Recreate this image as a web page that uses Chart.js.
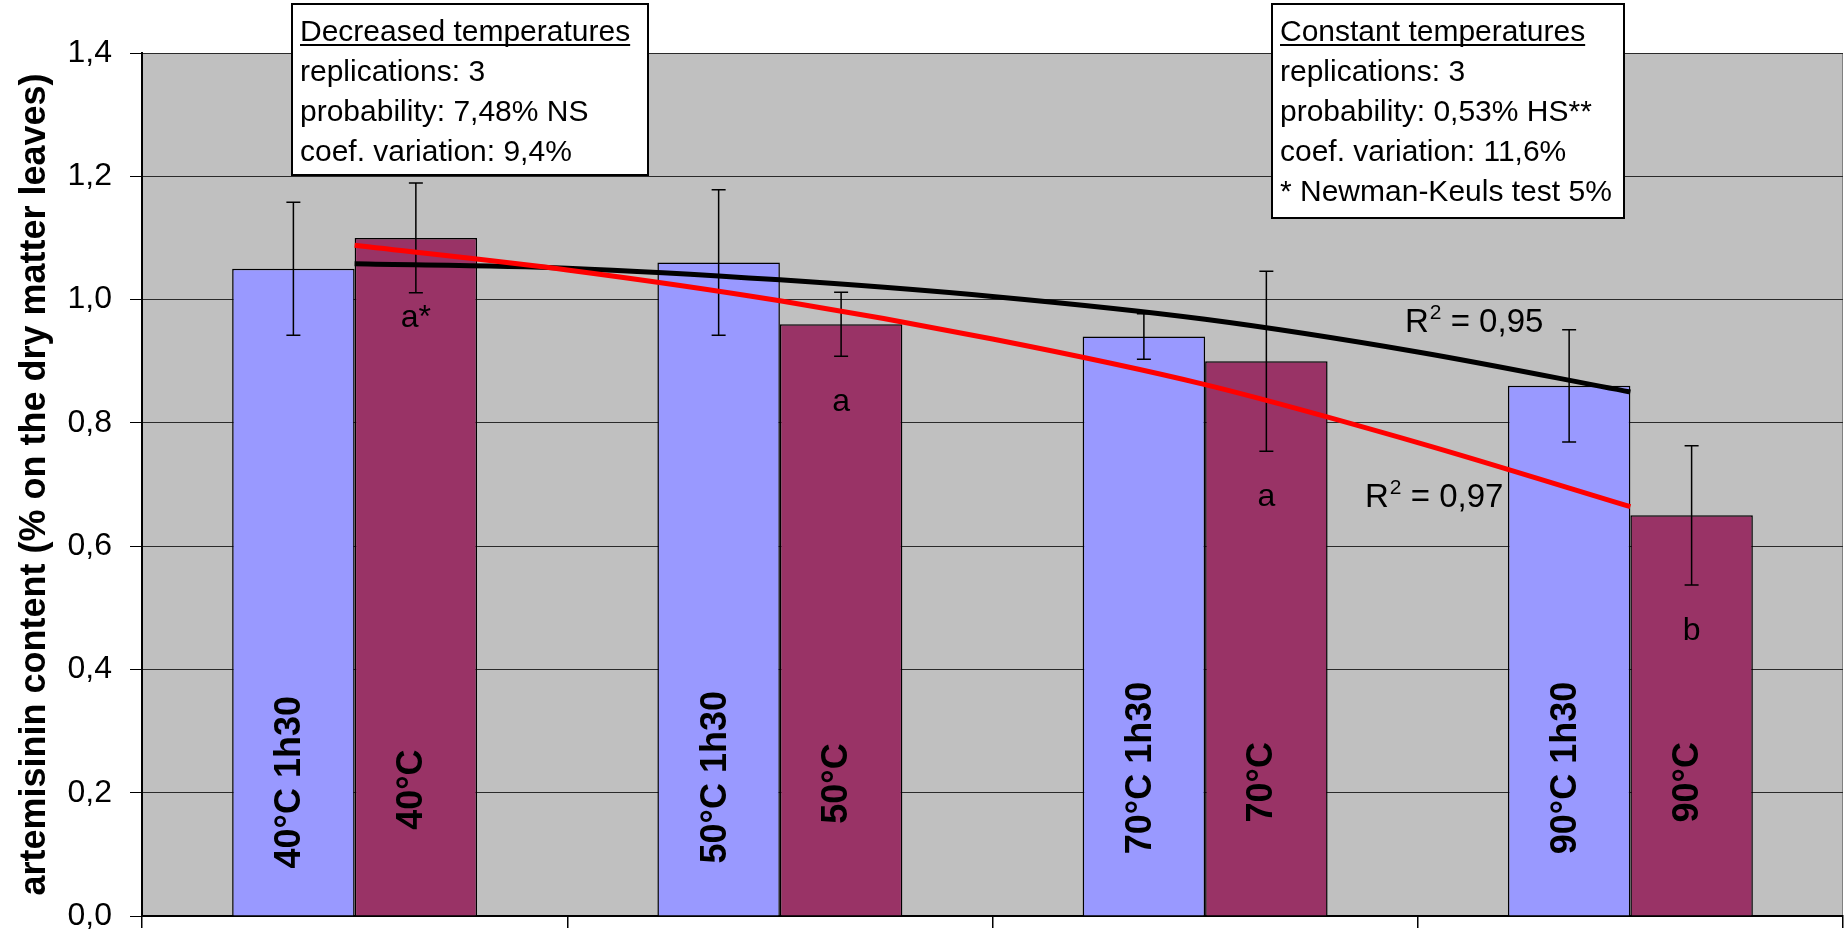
<!DOCTYPE html>
<html>
<head>
<meta charset="utf-8">
<title>Artemisinin content after drying</title>
<script src="https://cdn.jsdelivr.net/npm/chart.js@4/dist/chart.umd.min.js"></script>
<style>
  html, body { margin: 0; padding: 0; background: #ffffff; }
  canvas { display: block; }
</style>
</head>
<body>
<canvas id="chart" width="1846" height="935"></canvas>
<script>
// Drying temperatures (one group of bars each)
const categories = ['40°C', '50°C', '70°C', '90°C'];

// Artemisinin content, % of leaf dry matter
const decreasedValues = [1.05, 1.06, 0.94, 0.86];   // decreased temperature after 1h30
const constantValues  = [1.10, 0.96, 0.90, 0.65];   // constant temperature

// Error bar half-lengths
const decreasedErrors = [0.108, 0.118, 0.037, 0.091];
const constantErrors  = [0.089, 0.052, 0.146, 0.113];

// Text written inside the bars
const decreasedLabels = ['40°C 1h30', '50°C 1h30', '70°C 1h30', '90°C 1h30'];
const constantLabels  = ['40°C', '50°C', '70°C', '90°C'];

// Newman-Keuls groups for the constant-temperature series
const groupLetters = ['a*', 'a', 'a', 'b'];

// Polynomial trend lines (x in group units, 0 = first group)
const trendX          = [0, 0.5, 1.0, 1.5, 2.0, 2.5, 3.0];
const decreasedTrendY = [1.058, 1.051, 1.032, 1.005, 0.968, 0.915, 0.850];
const constantTrendY  = [1.088, 1.048, 0.998, 0.936, 0.862, 0.768, 0.664];

// Coefficients of determination of the trend lines
const decreasedR2 = '0,95';
const constantR2  = '0,97';

// Axis ticks: value axis, and group boundaries on the x axis
const yTicks = [0, 0.2, 0.4, 0.6, 0.8, 1.0, 1.2, 1.4];
const xBoundaries = [-0.5, 0.5, 1.5, 2.5, 3.5];

// Statistics boxes
const decreasedBox = ['Decreased temperatures', 'replications: 3', 'probability: 7,48% NS', 'coef. variation: 9,4%'];
const constantBox  = ['Constant temperatures', 'replications: 3', 'probability: 0,53% HS**', 'coef. variation: 11,6%', '* Newman-Keuls test 5%'];

const FONT = "'Liberation Sans', Arial, Helvetica, sans-serif";
const errorsByDataset = [decreasedErrors, constantErrors];

const toPoints = (xs, ys) => xs.map((x, i) => ({ x: x, y: ys[i] }));
const byGroup = ys => categories.map((c, i) => ({ x: i, y: ys[i] }));
const comma = v => v.toFixed(1).replace('.', ',');

const plotBackground = {
  id: 'plotBackground',
  beforeDraw(chart) {
    const { ctx, chartArea: a } = chart;
    ctx.save();
    ctx.fillStyle = '#C0C0C0';
    ctx.fillRect(a.left, a.top, a.right - a.left, a.bottom - a.top);
    ctx.strokeStyle = '#808080';
    ctx.lineWidth = 1;
    ctx.strokeRect(a.left + 0.5, a.top + 0.5, a.right - a.left - 1, a.bottom - a.top - 1);
    ctx.restore();
  }
};

function drawTextBox(ctx, lines, x, y, w, h) {
  ctx.save();
  ctx.fillStyle = '#ffffff';
  ctx.fillRect(x, y, w, h);
  ctx.strokeStyle = '#000000';
  ctx.lineWidth = 2;
  ctx.strokeRect(x, y, w, h);
  ctx.fillStyle = '#000000';
  ctx.font = '30px ' + FONT;
  ctx.textAlign = 'left';
  ctx.textBaseline = 'alphabetic';
  lines.forEach((t, i) => {
    const bx = x + 8, by = y + 37 + i * 40;
    ctx.fillText(t, bx, by);
    if (i === 0) {
      const tw = ctx.measureText(t).width;
      ctx.fillRect(bx, by + 3, tw, 2);
    }
  });
  ctx.restore();
}

function drawR2(ctx, value, x, y) {
  ctx.save();
  ctx.fillStyle = '#000000';
  ctx.textAlign = 'left';
  ctx.textBaseline = 'alphabetic';
  ctx.font = '33px ' + FONT;
  ctx.fillText('R', x, y);
  let cx = x + ctx.measureText('R').width;
  ctx.font = '21px ' + FONT;
  ctx.fillText('2', cx + 1, y - 13);
  cx += ctx.measureText('2').width + 1;
  ctx.font = '33px ' + FONT;
  ctx.fillText(' = ' + value, cx, y);
  ctx.restore();
}

const annotations = {
  id: 'annotations',
  afterDatasetDraw(chart, args) {
    const errs = errorsByDataset[args.index];
    if (!errs) return;
    const { ctx } = chart;
    const y = chart.scales.y;
    const values = chart.data.datasets[args.index].data;
    ctx.save();
    ctx.strokeStyle = '#000000';
    ctx.lineWidth = 1.5;
    args.meta.data.forEach((bar, i) => {
      const v = values[i].y;
      const yt = y.getPixelForValue(v + errs[i]);
      const yb = y.getPixelForValue(v - errs[i]);
      ctx.beginPath();
      ctx.moveTo(bar.x, yt); ctx.lineTo(bar.x, yb);
      ctx.moveTo(bar.x - 7, yt); ctx.lineTo(bar.x + 7, yt);
      ctx.moveTo(bar.x - 7, yb); ctx.lineTo(bar.x + 7, yb);
      ctx.stroke();
    });
    ctx.restore();
  },
  afterDraw(chart) {
    const { ctx } = chart;
    const y = chart.scales.y;
    const x = chart.scales.x;
    const blueBars = chart.getDatasetMeta(0).data;
    const redBars = chart.getDatasetMeta(1).data;

    // Rotated labels inside the bars (centre heights in axis units)
    const blueLabelLevels = [0.217, 0.225, 0.240, 0.240];
    const redLabelLevels = [0.205, 0.215, 0.217, 0.217];
    ctx.save();
    ctx.fillStyle = '#000000';
    ctx.font = 'bold 36px ' + FONT;
    ctx.textAlign = 'center';
    ctx.textBaseline = 'middle';
    const putVertical = (text, px, py) => {
      ctx.save();
      ctx.translate(px, py);
      ctx.rotate(-Math.PI / 2);
      ctx.fillText(text, 0, 0);
      ctx.restore();
    };
    blueBars.forEach((b, i) => putVertical(decreasedLabels[i], b.x - 3, y.getPixelForValue(blueLabelLevels[i])));
    redBars.forEach((b, i) => putVertical(constantLabels[i], b.x - 4, y.getPixelForValue(redLabelLevels[i])));
    ctx.restore();

    // Group letters
    const letterLevels = [0.955, 0.819, 0.665, 0.447];
    ctx.save();
    ctx.fillStyle = '#000000';
    ctx.font = '32px ' + FONT;
    ctx.textAlign = 'center';
    ctx.textBaseline = 'alphabetic';
    redBars.forEach((b, i) => ctx.fillText(groupLetters[i], b.x, y.getPixelForValue(letterLevels[i])));
    ctx.restore();

    // Trend line R² labels
    drawR2(ctx, decreasedR2, x.getPixelForValue(2.47), y.getPixelForValue(0.947));
    drawR2(ctx, constantR2, x.getPixelForValue(2.376), y.getPixelForValue(0.663));

    // Statistics boxes
    drawTextBox(ctx, decreasedBox, 292, 4, 356, 171);
    drawTextBox(ctx, constantBox, 1272, 4, 352, 214);
  }
};

new Chart(document.getElementById('chart'), {
  data: {
    datasets: [
      {
        type: 'bar',
        label: 'Decreased temperatures',
        data: byGroup(decreasedValues),
        backgroundColor: '#9999FF',
        borderColor: '#000000',
        borderWidth: 1.5,
        categoryPercentage: 0.576,
        barPercentage: 1.0,
        order: 2
      },
      {
        type: 'bar',
        label: 'Constant temperatures',
        data: byGroup(constantValues),
        backgroundColor: '#993366',
        borderColor: '#000000',
        borderWidth: 1.5,
        categoryPercentage: 0.576,
        barPercentage: 1.0,
        order: 2
      },
      {
        type: 'line',
        label: 'Trend (decreased)',
        data: toPoints(trendX, decreasedTrendY),
        borderColor: '#000000',
        borderWidth: 5,
        pointRadius: 0,
        cubicInterpolationMode: 'monotone',
        fill: false,
        order: 1
      },
      {
        type: 'line',
        label: 'Trend (constant)',
        data: toPoints(trendX, constantTrendY),
        borderColor: '#FF0000',
        borderWidth: 5,
        pointRadius: 0,
        cubicInterpolationMode: 'monotone',
        fill: false,
        order: 0
      }
    ]
  },
  options: {
    responsive: false,
    animation: false,
    devicePixelRatio: 1,
    layout: { padding: { top: 53, right: 3, bottom: 0, left: 0 } },
    plugins: {
      legend: { display: false },
      tooltip: { enabled: false },
      title: { display: false }
    },
    scales: {
      x: {
        type: 'linear',
        min: -0.5,
        max: 3.5,
        offset: false,
        afterBuildTicks(scale) { scale.ticks = xBoundaries.map(v => ({ value: v })); },
        ticks: { display: false },
        grid: {
          display: true,
          offset: false,
          drawOnChartArea: false,
          drawTicks: true,
          tickLength: 12,
          color: '#000000',
          lineWidth: 1.5
        },
        border: { display: true, color: '#000000', width: 2 },
        afterFit(scale) { scale.height = 19; }
      },
      y: {
        type: 'linear',
        min: 0,
        max: 1.4,
        afterBuildTicks(scale) { scale.ticks = yTicks.map(v => ({ value: v })); },
        ticks: {
          color: '#000000',
          padding: 18,
          font: { family: FONT, size: 32 },
          callback: v => comma(v)
        },
        grid: {
          color: '#2a2a2a',
          lineWidth: 1,
          drawTicks: true,
          tickLength: 12,
          tickColor: '#000000'
        },
        border: { display: true, color: '#000000', width: 2 },
        title: {
          display: true,
          text: 'artemisinin content (% on the dry matter leaves)',
          color: '#000000',
          font: { family: FONT, size: 36, weight: 'bold' },
          padding: { top: 13, bottom: 0 }
        },
        afterFit(scale) {
          scale.width = 142;
          scale.paddingTop = 0;
          scale.paddingBottom = 0;
        }
      }
    }
  },
  plugins: [plotBackground, annotations]
});
</script>
</body>
</html>
